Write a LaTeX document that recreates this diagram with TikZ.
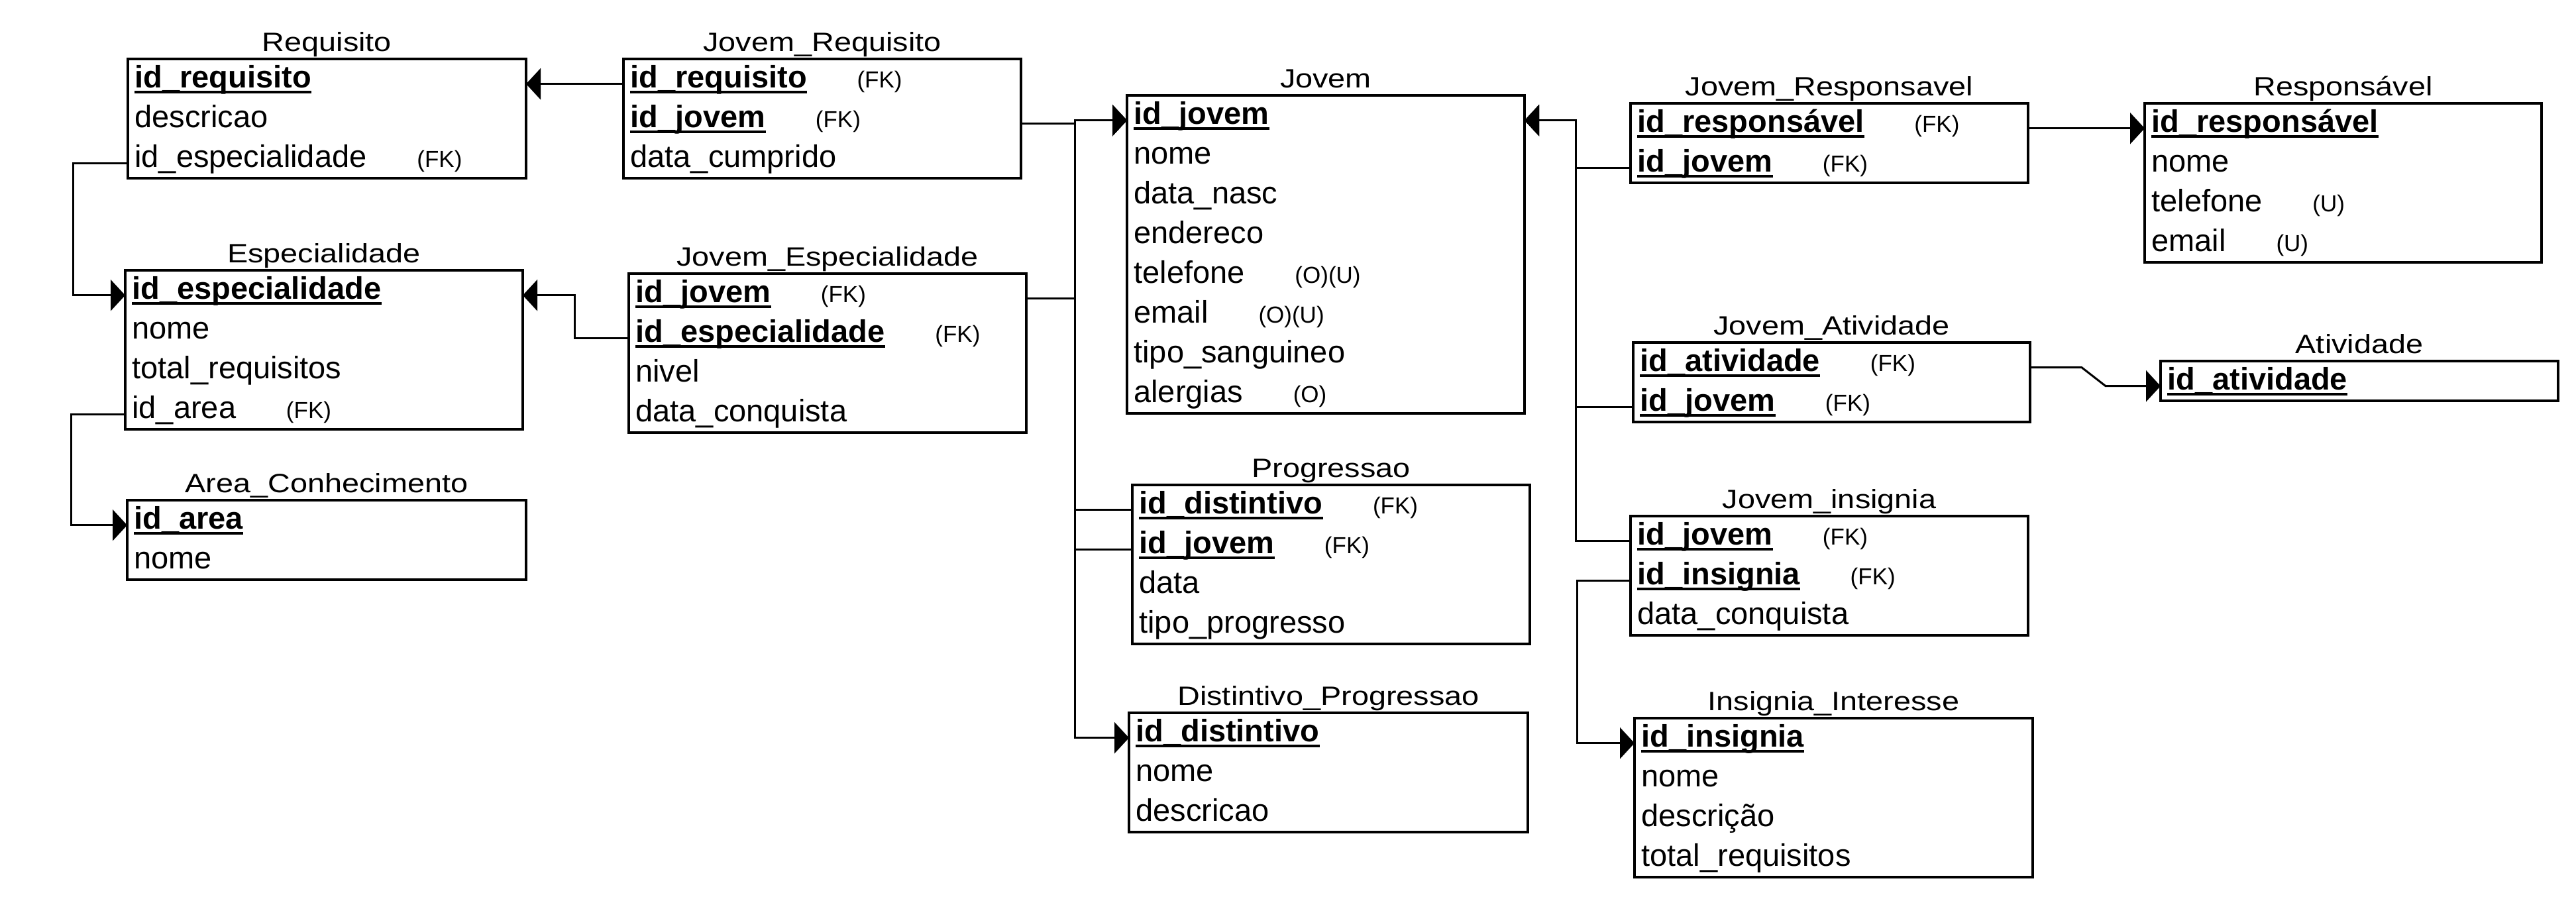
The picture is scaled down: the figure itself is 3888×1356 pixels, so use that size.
\documentclass[tikz,border=0pt]{standalone}
\usepackage{fontspec}
\setmainfont{Liberation Sans}
\newfontfamily\titlef[FakeStretch=1.17]{Liberation Sans}
\usetikzlibrary{arrows.meta,calc}
\tikzset{
  tbox/.style={draw, line width=1.8pt, rectangle, inner sep=0pt, outer sep=0pt, anchor=north west},
  ttitle/.style={font=\titlef\fontsize{20pt}{24pt}\selectfont, inner sep=0pt, anchor=base},
  fd/.style={font=\fontsize{23.5pt}{28pt}\selectfont, inner sep=0pt},
  pk/.style={font=\bfseries\fontsize{23.5pt}{28pt}\selectfont, inner sep=0pt},
  note/.style={font=\fontsize{17.5pt}{21pt}\selectfont, inner sep=0pt},
  ul/.style={line width=2pt},
  conn/.style={line width=1.5pt},
  arr/.style={conn, -{Triangle[length=11pt,width=23.5pt]}},
}
\newcommand\tbl[6]{%
  \node[tbox, minimum width=#5*0.5pt, minimum height=#6*30pt] (#1) at (#3,#4) {};
  \node[ttitle] (#1-t) at ([yshift=6pt]#1.north) {#2};}
\newcommand\fld[5]{%
  \pgfmathsetmacro\fy{-21.5-30*(#2-1)}%
  \node[#3, anchor=base west] (#1-#2) at ([xshift=5pt,yshift=\fy pt]#1.north west) {#4};%
  \if\relax\detokenize{#5}\relax\else
    \node[note, anchor=base west] (#1-#2n) at ([xshift=37.5pt]#1-#2.base east) {#5};%
  \fi}
\newcommand\pkf[4]{%
  \fld{#1}{#2}{pk}{#3}{#4}%
  \draw[ul] ([yshift=-3.5pt]#1-#2.base west) -- ([yshift=-3.5pt]#1-#2.base east);}
\begin{document}
\begin{tikzpicture}[x=0.5pt,y=-0.5pt]
\useasboundingbox (0,0) rectangle (3888,1356);

\tbl{req}{Requisito}{193}{89}{601}{3}
\pkf{req}{1}{id\_requisito}{}
\fld{req}{2}{fd}{descricao}{}
\fld{req}{3}{fd}{id\_especialidade}{(FK)}

\tbl{jr}{Jovem\_Requisito}{941}{89}{600}{3}
\pkf{jr}{1}{id\_requisito}{(FK)}
\pkf{jr}{2}{id\_jovem}{(FK)}
\fld{jr}{3}{fd}{data\_cumprido}{}

\tbl{esp}{Especialidade}{189}{408}{600}{4}
\pkf{esp}{1}{id\_especialidade}{}
\fld{esp}{2}{fd}{nome}{}
\fld{esp}{3}{fd}{total\_requisitos}{}
\fld{esp}{4}{fd}{id\_area}{(FK)}

\tbl{je}{Jovem\_Especialidade}{949}{413}{600}{4}
\pkf{je}{1}{id\_jovem}{(FK)}
\pkf{je}{2}{id\_especialidade}{(FK)}
\fld{je}{3}{fd}{nivel}{}
\fld{je}{4}{fd}{data\_conquista}{}

\tbl{area}{Area\_Conhecimento}{192}{755}{602}{2}
\pkf{area}{1}{id\_area}{}
\fld{area}{2}{fd}{nome}{}

\tbl{jov}{Jovem}{1701}{144}{600}{8}
\pkf{jov}{1}{id\_jovem}{}
\fld{jov}{2}{fd}{nome}{}
\fld{jov}{3}{fd}{data\_nasc}{}
\fld{jov}{4}{fd}{endereco}{}
\fld{jov}{5}{fd}{telefone}{(O)(U)}
\fld{jov}{6}{fd}{email}{(O)(U)}
\fld{jov}{7}{fd}{tipo\_sanguineo}{}
\fld{jov}{8}{fd}{alergias}{(O)}

\tbl{prog}{Progressao}{1709}{732}{600}{4}
\pkf{prog}{1}{id\_distintivo}{(FK)}
\pkf{prog}{2}{id\_jovem}{(FK)}
\fld{prog}{3}{fd}{data}{}
\fld{prog}{4}{fd}{tipo\_progresso}{}

\tbl{dp}{Distintivo\_Progressao}{1704}{1076}{602}{3}
\pkf{dp}{1}{id\_distintivo}{}
\fld{dp}{2}{fd}{nome}{}
\fld{dp}{3}{fd}{descricao}{}

\tbl{jresp}{Jovem\_Responsavel}{2461}{156}{600}{2}
\pkf{jresp}{1}{id\_responsável}{(FK)}
\pkf{jresp}{2}{id\_jovem}{(FK)}

\tbl{resp}{Responsável}{3237}{156}{599}{4}
\pkf{resp}{1}{id\_responsável}{}
\fld{resp}{2}{fd}{nome}{}
\fld{resp}{3}{fd}{telefone}{(U)}
\fld{resp}{4}{fd}{email}{(U)}

\tbl{ja}{Jovem\_Atividade}{2465}{517}{599}{2}
\pkf{ja}{1}{id\_atividade}{(FK)}
\pkf{ja}{2}{id\_jovem}{(FK)}

\tbl{ati}{Atividade}{3261}{545}{600}{1}
\pkf{ati}{1}{id\_atividade}{}

\tbl{ji}{Jovem\_insignia}{2461}{779}{600}{3}
\pkf{ji}{1}{id\_jovem}{(FK)}
\pkf{ji}{2}{id\_insignia}{(FK)}
\fld{ji}{3}{fd}{data\_conquista}{}

\tbl{ii}{Insignia\_Interesse}{2467}{1084}{601}{4}
\pkf{ii}{1}{id\_insignia}{}
\fld{ii}{2}{fd}{nome}{}
\fld{ii}{3}{fd}{descrição}{}
\fld{ii}{4}{fd}{total\_requisitos}{}

\coordinate (busL) at (1622,0);
\coordinate (busR) at (2378,0);

\draw[arr] (jr-1.mid -| jr.west) -- (jr-1.mid -| req.east);
\draw[arr] (je-2.mid -| je.west) -- ++(-41pt,0) |- (esp-1.mid -| esp.east);
\draw[arr] (req-3.mid -| req.west) -- ++(-41.5pt,0) |- (esp-1.mid -| esp.west);
\draw[arr] (esp-4.mid -| esp.west) -- ++(-41pt,0) |- (area-1.mid -| area.west);
\draw[arr] (jr-2.mid -| jr.east) -- (jr-2.mid -| busL) |- (jov-1.mid -| jov.west);
\draw[arr] (je-1.mid -| je.east) -- (je-1.mid -| busL) |- (jov-1.mid -| jov.west);
\draw[arr] (prog-2.mid -| prog.west) -- (prog-2.mid -| busL) |- (jov-1.mid -| jov.west);
\draw[arr] (prog-1.mid -| prog.west) -- (prog-1.mid -| busL) |- (dp-1.mid -| dp.west);
\draw[arr] (jresp-2.mid -| jresp.west) -- (jresp-2.mid -| busR) |- (jov-1.mid -| jov.east);
\draw[arr] (ja-2.mid -| ja.west) -- (ja-2.mid -| busR) |- (jov-1.mid -| jov.east);
\draw[arr] (ji-1.mid -| ji.west) -- (ji-1.mid -| busR) |- (jov-1.mid -| jov.east);
\draw[arr] (jresp-1.mid -| jresp.east) -- (jresp-1.mid -| resp.west);
\draw[arr] (ja-1.mid -| ja.east) -- ++(39pt,0) -- ($(ati-1.mid -| ati.west)+(-41.5pt,0)$) -- (ati-1.mid -| ati.west);
\draw[arr] (ji-2.mid -| ji.west) -- ++(-40.5pt,0) |- (ii-1.mid -| ii.west);
\end{tikzpicture}
\end{document}
